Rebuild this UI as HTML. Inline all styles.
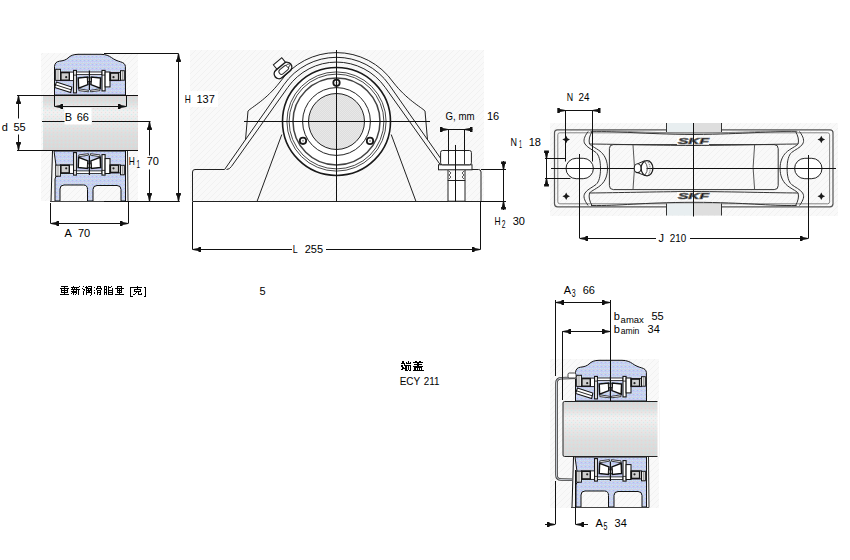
<!DOCTYPE html><html><head><meta charset="utf-8"><style>
html,body{margin:0;padding:0;background:#fff;}
svg{display:block;}
text{font-family:"Liberation Sans",sans-serif;fill:#000;}
</style></head><body>
<svg width="850" height="560" viewBox="0 0 850 560">
<defs>
<pattern id="hatch" width="6" height="6" patternUnits="userSpaceOnUse">
<rect width="6" height="6" fill="#f9f9f9"/><rect x="5" y="0" width="1" height="1" fill="#f1f1f1"/><rect x="4" y="1" width="1" height="1" fill="#f1f1f1"/><rect x="3" y="2" width="1" height="1" fill="#f1f1f1"/><rect x="2" y="3" width="1" height="1" fill="#f1f1f1"/><rect x="1" y="4" width="1" height="1" fill="#f1f1f1"/><rect x="0" y="5" width="1" height="1" fill="#f1f1f1"/>
</pattern>
<pattern id="blue" width="4" height="4" patternUnits="userSpaceOnUse">
<rect width="4" height="4" fill="#cacaf2"/><rect x="0" y="0" width="1" height="1" fill="#a4c8f0"/><rect x="2" y="0" width="1" height="1" fill="#bceaf0"/><rect x="1" y="2" width="1" height="1" fill="#bceaf0"/><rect x="3" y="2" width="1" height="1" fill="#c4eef0"/><rect x="2" y="3" width="1" height="1" fill="#d8d6d0"/><rect x="0" y="3" width="1" height="1" fill="#d4d4e4"/>
</pattern>
<pattern id="gray" width="2" height="2" patternUnits="userSpaceOnUse">
<rect width="2" height="2" fill="#dedede"/><rect x="0" y="0" width="1" height="1" fill="#e8e8e8"/><rect x="1" y="1" width="1" height="1" fill="#e8e8e8"/>
</pattern>
<linearGradient id="shaftg" x1="0" y1="0" x2="0" y2="1">
<stop offset="0" stop-color="#d8d8d8"/><stop offset="0.12" stop-color="#dedede"/><stop offset="0.3" stop-color="#f1f1f1"/><stop offset="0.48" stop-color="#e8e8e8"/><stop offset="0.7" stop-color="#dedede"/><stop offset="1" stop-color="#d8d8d8"/>
</linearGradient>
<pattern id="dots" width="4" height="4" patternUnits="userSpaceOnUse"><rect x="1" y="0" width="1" height="1" fill="#f4c8c8" opacity="0.5"/><rect x="3" y="2" width="1" height="1" fill="#b8f0f0" opacity="0.6"/></pattern>
<pattern id="gray2" width="2" height="2" patternUnits="userSpaceOnUse"><rect width="2" height="2" fill="#e2e2e2"/><rect x="0" y="0" width="1" height="1" fill="#ececec"/><rect x="1" y="1" width="1" height="1" fill="#eaeaea"/></pattern>
</defs>
<rect width="850" height="560" fill="#fff"/>

<rect x="41" y="53" width="97" height="148" fill="url(#hatch)" stroke="none" stroke-width="1" />
<rect x="190" y="50" width="294" height="151" fill="url(#hatch)" stroke="none" stroke-width="1" />
<rect x="550" y="123" width="288" height="93" fill="url(#hatch)" stroke="none" stroke-width="1" />
<rect x="550" y="359" width="109" height="149" fill="url(#hatch)" stroke="none" stroke-width="1" />
<path d="M54.5,95 L54.5,66.5 C54.8,63 56.5,61.6 59.5,61.2 C63,60.8 66,60 68,58 C70.5,55.5 73.5,54.4 78,54.3 L101,54.3 C106,54.4 109,55.8 111.5,57.6 C114.5,59.8 117.5,61 120.5,61.8 C123.5,62.6 125.2,64 125.4,66.5 L125.5,95 Z" fill="url(#blue)" stroke="#111" stroke-width="1" />
<rect x="60.4" y="72.1" width="13.2" height="8.5" fill="#fff" stroke="#111" stroke-width="0.9" />
<rect x="60.9" y="72.6" width="8.4" height="7.6" fill="#cfcfcf" stroke="#151515" stroke-width="1.4" />
<circle cx="66.2" cy="77.2" r="1.1" fill="#222" stroke="none" stroke-width="1" />
<rect x="55.7" y="69.3" width="4.7" height="11.1" fill="#fff" stroke="#111" stroke-width="1" />
<line x1="58" y1="69.5" x2="58" y2="80.2" stroke="#555" stroke-width="0.7" />
<path d="M56.4,82.1 L71.8,87.1 L70.7,92.5 L54.6,87.5 Z" fill="#fff" stroke="#111" stroke-width="1.1" />
<line x1="55.5" y1="84.8" x2="71.2" y2="89.8" stroke="#111" stroke-width="0.9" />
<rect x="73.6" y="70.4" width="2.8" height="22.5" fill="#fff" stroke="#111" stroke-width="1.1" />
<line x1="73.6" y1="75.1" x2="76.4" y2="75.1" stroke="#111" stroke-width="0.8" />
<rect x="76.4" y="72" width="25.6" height="2.6" fill="#fff" stroke="#111" stroke-width="0.8" />
<path d="M78.2,77.9 L87.5,77.1 L87.9,84.6 L78.6,88.2 Z" fill="#fff" stroke="#111" stroke-width="1.5" />
<path d="M100.6,77.9 L91.3,77.1 L90.9,84.6 L100.2,88.2 Z" fill="#fff" stroke="#111" stroke-width="1.5" />
<path d="M78.8,88.8 L88.4,90.3 L88.4,91.8 L78.8,90.6 Z" fill="#fff" stroke="#111" stroke-width="0.8" />
<path d="M100,88.8 L90.4,90.3 L90.4,91.8 L100,90.6 Z" fill="#fff" stroke="#111" stroke-width="0.8" />
<rect x="87.8" y="77.8" width="3.2" height="3.8" fill="#fff" stroke="#111" stroke-width="0.8" />
<line x1="89.4" y1="70.5" x2="89.4" y2="90" stroke="#111" stroke-width="1.2" />
<rect x="102" y="70.4" width="3.1" height="20.5" fill="#fff" stroke="#111" stroke-width="1.1" />
<line x1="102" y1="75.1" x2="105.1" y2="75.1" stroke="#111" stroke-width="0.8" />
<rect x="105.1" y="72" width="4.9" height="14.9" fill="#fff" stroke="#111" stroke-width="1" />
<rect x="110" y="72.6" width="10.5" height="8" fill="#fff" stroke="#111" stroke-width="0.9" />
<rect x="110.4" y="73.1" width="8.2" height="7.2" fill="#cfcfcf" stroke="#151515" stroke-width="1.4" />
<circle cx="113.5" cy="77.2" r="1.1" fill="#222" stroke="none" stroke-width="1" />
<rect x="120.5" y="70.7" width="3.8" height="9.5" fill="#fff" stroke="#111" stroke-width="1" />
<line x1="122.3" y1="70.9" x2="122.3" y2="80" stroke="#555" stroke-width="0.7" />
<path d="M52.5,151 L51,201.5" fill="none" stroke="#111" stroke-width="1" />
<path d="M127.5,151 L128,201.5" fill="none" stroke="#333" stroke-width="1" />
<path d="M54,151 L125.5,151 L125.5,201 L121,201 L121,189.5 Q121,185.5 117,185.5 L97,185.5 Q93,185.5 93,189.5 L93,201 L87.5,201 L87.5,189.5 Q87.5,185 83.5,185 L64,185 Q60,185 60,189 L60,201 L55,201 L55,179 Q55,176 58,176 L58,165.5 L56,165.5 Z" fill="url(#blue)" stroke="#111" stroke-width="1" />
<g transform="translate(0,245.5) scale(1,-1)">
<rect x="60.4" y="72.1" width="13.2" height="8.5" fill="#fff" stroke="#111" stroke-width="0.9" />
<rect x="60.9" y="72.6" width="8.4" height="7.6" fill="#cfcfcf" stroke="#151515" stroke-width="1.4" />
<circle cx="66.2" cy="77.2" r="1.1" fill="#222" stroke="none" stroke-width="1" />
<rect x="55.7" y="69.3" width="4.7" height="11.1" fill="#fff" stroke="#111" stroke-width="1" />
<line x1="58" y1="69.5" x2="58" y2="80.2" stroke="#555" stroke-width="0.7" />
<rect x="73.6" y="70.4" width="2.8" height="22.5" fill="#fff" stroke="#111" stroke-width="1.1" />
<line x1="73.6" y1="75.1" x2="76.4" y2="75.1" stroke="#111" stroke-width="0.8" />
<rect x="76.4" y="72" width="25.6" height="2.6" fill="#fff" stroke="#111" stroke-width="0.8" />
<path d="M78.2,77.9 L87.5,77.1 L87.9,84.6 L78.6,88.2 Z" fill="#fff" stroke="#111" stroke-width="1.5" />
<path d="M100.6,77.9 L91.3,77.1 L90.9,84.6 L100.2,88.2 Z" fill="#fff" stroke="#111" stroke-width="1.5" />
<path d="M78.8,88.8 L88.4,90.3 L88.4,91.8 L78.8,90.6 Z" fill="#fff" stroke="#111" stroke-width="0.8" />
<path d="M100,88.8 L90.4,90.3 L90.4,91.8 L100,90.6 Z" fill="#fff" stroke="#111" stroke-width="0.8" />
<rect x="87.8" y="77.8" width="3.2" height="3.8" fill="#fff" stroke="#111" stroke-width="0.8" />
<line x1="89.4" y1="70.5" x2="89.4" y2="90" stroke="#111" stroke-width="1.2" />
<rect x="102" y="70.4" width="3.1" height="20.5" fill="#fff" stroke="#111" stroke-width="1.1" />
<line x1="102" y1="75.1" x2="105.1" y2="75.1" stroke="#111" stroke-width="0.8" />
<rect x="105.1" y="72" width="4.9" height="14.9" fill="#fff" stroke="#111" stroke-width="1" />
<rect x="110" y="72.6" width="10.5" height="8" fill="#fff" stroke="#111" stroke-width="0.9" />
<rect x="110.4" y="73.1" width="8.2" height="7.2" fill="#cfcfcf" stroke="#151515" stroke-width="1.4" />
<circle cx="113.5" cy="77.2" r="1.1" fill="#222" stroke="none" stroke-width="1" />
<rect x="120.5" y="70.7" width="3.8" height="9.5" fill="#fff" stroke="#111" stroke-width="1" />
<line x1="122.3" y1="70.9" x2="122.3" y2="80" stroke="#555" stroke-width="0.7" />
</g>
<line x1="50" y1="201.5" x2="128" y2="201.5" stroke="#444" stroke-width="1" />
<rect x="43" y="95.5" width="95" height="55" fill="url(#shaftg)" stroke="none" stroke-width="1" />
<rect x="43" y="95.5" width="95" height="55" fill="url(#dots)" stroke="none" stroke-width="1" />
<line x1="41" y1="95.5" x2="138" y2="95.5" stroke="#111" stroke-width="1" />
<line x1="41" y1="150.5" x2="138" y2="150.5" stroke="#111" stroke-width="1" />
<line x1="17" y1="95.5" x2="41" y2="95.5" stroke="#111" stroke-width="1" />
<line x1="17" y1="150.5" x2="41" y2="150.5" stroke="#111" stroke-width="1" />
<line x1="18.5" y1="95" x2="18.5" y2="118.5" stroke="#111" stroke-width="1" />
<line x1="18.5" y1="134.5" x2="18.5" y2="150.5" stroke="#111" stroke-width="1" />
<path d="M17.90,96.00 L17.40,98.50 L16.90,101.50 L16.10,101.50 L16.10,104.00 L20.90,104.00 L20.90,101.50 L20.10,101.50 L19.60,98.50 L19.10,96.00Z" fill="#111"/>
<path d="M17.90,150.00 L17.40,147.50 L16.90,144.50 L16.10,144.50 L16.10,142.00 L20.90,142.00 L20.90,144.50 L20.10,144.50 L19.60,147.50 L19.10,150.00Z" fill="#111"/>
<text x="1.70" y="131.00" font-size="11" >d</text>
<text x="13.50" y="131.00" font-size="11" >55</text>
<line x1="54.5" y1="95.5" x2="54.5" y2="106.5" stroke="#111" stroke-width="1" />
<line x1="126.5" y1="95.5" x2="126.5" y2="106.5" stroke="#111" stroke-width="1" />
<line x1="54.5" y1="106.5" x2="126.5" y2="106.5" stroke="#111" stroke-width="1" />
<path d="M55.00,105.90 L57.50,105.40 L60.50,104.90 L60.50,104.10 L63.00,104.10 L63.00,108.90 L60.50,108.90 L60.50,108.10 L57.50,107.60 L55.00,107.10Z" fill="#111"/>
<path d="M126.00,105.90 L123.50,105.40 L120.50,104.90 L120.50,104.10 L118.00,104.10 L118.00,108.90 L120.50,108.90 L120.50,108.10 L123.50,107.60 L126.00,107.10Z" fill="#111"/>
<rect x="64.5" y="108" width="27" height="16.5" fill="#fff" stroke="none" stroke-width="1" />
<text x="64.70" y="121.00" font-size="11" >B</text>
<text x="76.70" y="121.00" font-size="11" >66</text>
<line x1="42" y1="121.5" x2="64.5" y2="121.5" stroke="#111" stroke-width="1" />
<line x1="92" y1="121.5" x2="150.5" y2="121.5" stroke="#111" stroke-width="1" />
<line x1="149.5" y1="121.5" x2="149.5" y2="155.5" stroke="#111" stroke-width="1" />
<line x1="149.5" y1="169.5" x2="149.5" y2="201" stroke="#111" stroke-width="1" />
<path d="M148.90,122.00 L148.40,124.50 L147.90,127.50 L147.10,127.50 L147.10,130.00 L151.90,130.00 L151.90,127.50 L151.10,127.50 L150.60,124.50 L150.10,122.00Z" fill="#111"/>
<path d="M148.90,201.00 L148.40,198.50 L147.90,195.50 L147.10,195.50 L147.10,193.00 L151.90,193.00 L151.90,195.50 L151.10,195.50 L150.60,198.50 L150.10,201.00Z" fill="#111"/>
<text x="128.70" y="165.00" font-size="11" textLength="6.06" lengthAdjust="spacingAndGlyphs">H</text>
<text x="136.50" y="168.00" font-size="10" textLength="3.48" lengthAdjust="spacingAndGlyphs">1</text>
<text x="146.70" y="165.00" font-size="11" >70</text>
<line x1="104" y1="53.5" x2="178.5" y2="53.5" stroke="#111" stroke-width="1" />
<line x1="178.5" y1="53.5" x2="178.5" y2="201" stroke="#111" stroke-width="1" />
<line x1="104" y1="201.5" x2="179.8" y2="201.5" stroke="#111" stroke-width="1" />
<path d="M177.90,54.00 L177.40,56.50 L176.90,59.50 L176.10,59.50 L176.10,62.00 L180.90,62.00 L180.90,59.50 L180.10,59.50 L179.60,56.50 L179.10,54.00Z" fill="#111"/>
<path d="M177.90,201.00 L177.40,198.50 L176.90,195.50 L176.10,195.50 L176.10,193.00 L180.90,193.00 L180.90,195.50 L180.10,195.50 L179.60,198.50 L179.10,201.00Z" fill="#111"/>
<rect x="181" y="91" width="37" height="16" fill="#fff" stroke="none" stroke-width="1" />
<text x="184.70" y="103.00" font-size="11" textLength="6.06" lengthAdjust="spacingAndGlyphs">H</text>
<text x="196.50" y="103.00" font-size="11" >137</text>
<line x1="50.5" y1="203" x2="50.5" y2="223.5" stroke="#111" stroke-width="1" />
<line x1="128.5" y1="201" x2="128.5" y2="223.5" stroke="#111" stroke-width="1" />
<line x1="50.6" y1="223.5" x2="128.2" y2="223.5" stroke="#111" stroke-width="1" />
<path d="M51.00,222.90 L53.50,222.40 L56.50,221.90 L56.50,221.10 L59.00,221.10 L59.00,225.90 L56.50,225.90 L56.50,225.10 L53.50,224.60 L51.00,224.10Z" fill="#111"/>
<path d="M128.00,222.90 L125.50,222.40 L122.50,221.90 L122.50,221.10 L120.00,221.10 L120.00,225.90 L122.50,225.90 L122.50,225.10 L125.50,224.60 L128.00,224.10Z" fill="#111"/>
<text x="64.50" y="237.00" font-size="11" >A</text>
<text x="77.90" y="237.00" font-size="11" >70</text>
<path d="M192.5,201.5 L192.5,172 Q192.5,169.5 195,169.5 L224.6,169.5 L283.9,84.7 A64.2,64.2 0 0 1 389.1,84.7 L448.4,169.5 L478.5,169.5 Q481,169.5 481,172 L481,201.5" fill="none" stroke="#222" stroke-width="1" />
<path d="M226.5,169.5 Q229.5,169.5 231.5,166.4 L287.8,87.4 A59.5,59.5 0 0 1 385.2,87.4 L441.5,166.4 Q443.5,169.5 446.5,169.5" fill="none" stroke="#222" stroke-width="1" />
<path d="M245.5,140 L248,111 C252,107 266,100 280,82 A69,69 0 0 1 393.0,82 C407.0,100 421.0,107 425.0,111 L427.5,140" fill="none" stroke="#222" stroke-width="1" />
<line x1="192.5" y1="201.5" x2="481" y2="201.5" stroke="#222" stroke-width="1" />
<line x1="257" y1="201.5" x2="281.8" y2="134.5" stroke="#222" stroke-width="1" />
<line x1="416.0" y1="201.5" x2="391.2" y2="134.5" stroke="#222" stroke-width="1" />
<circle cx="336.5" cy="121.5" r="54" fill="#fff" stroke="#1a1a1a" stroke-width="1.6" />
<circle cx="336.5" cy="121.5" r="49.6" fill="none" stroke="#333" stroke-width="0.9" />
<circle cx="336.5" cy="121.5" r="47.4" fill="none" stroke="#333" stroke-width="0.9" />
<circle cx="336.5" cy="121.5" r="43.5" fill="none" stroke="#444" stroke-width="1.5" />
<circle cx="336.5" cy="121.5" r="33.9" fill="none" stroke="#222" stroke-width="1" />
<circle cx="336.5" cy="121.5" r="28" fill="url(#gray)" stroke="#222" stroke-width="1" />
<circle cx="336.5" cy="82.8" r="3.2" fill="#fff" stroke="#1a1a1a" stroke-width="1.8" />
<circle cx="336.5" cy="82.8" r="1.0" fill="#999" stroke="none" stroke-width="1" />
<circle cx="303.0" cy="140.8" r="3.2" fill="#fff" stroke="#1a1a1a" stroke-width="1.8" />
<circle cx="303.0" cy="140.8" r="1.0" fill="#999" stroke="none" stroke-width="1" />
<circle cx="370.0" cy="140.9" r="3.2" fill="#fff" stroke="#1a1a1a" stroke-width="1.8" />
<circle cx="370.0" cy="140.9" r="1.0" fill="#999" stroke="none" stroke-width="1" />
<g transform="translate(283,70.5) rotate(-40)">
<rect x="-3.8" y="-10.5" width="11" height="7" fill="#fff" stroke="#222" stroke-width="1" />
<rect x="-10" y="-4.8" width="20" height="9.6" fill="#fff" stroke="#1a1a1a" stroke-width="1.5" rx="4.8"/>
<rect x="-4.5" y="-2.6" width="11" height="5.2" fill="#fff" stroke="#333" stroke-width="1" rx="2.6"/>
<circle cx="7" cy="-0.5" r="1.6" fill="#fff" stroke="#333" stroke-width="0.8" />
</g>
<line x1="336.5" y1="50" x2="336.5" y2="201.5" stroke="#111" stroke-width="1" />
<line x1="244" y1="121.5" x2="430" y2="121.5" stroke="#111" stroke-width="1" />
<rect x="438.5" y="164.8" width="33.5" height="5" fill="#fff" stroke="#222" stroke-width="1" />
<rect x="440.6" y="150.5" width="30.8" height="14.3" fill="#fff" stroke="#222" stroke-width="1" rx="2"/>
<line x1="448.5" y1="151" x2="448.5" y2="164.5" stroke="#333" stroke-width="1" />
<line x1="464.5" y1="151" x2="464.5" y2="164.5" stroke="#333" stroke-width="1" />
<path d="M448,170 L448,180.5 L465,180.5 L465,170" fill="none" stroke="#222" stroke-width="1" />
<path d="M449,171 l2,2 l-2,2 l2,2 l-2,2" fill="none" stroke="#333" stroke-width="0.8" />
<path d="M464,171 l-2,2 l2,2 l-2,2 l2,2" fill="none" stroke="#333" stroke-width="0.8" />
<rect x="448" y="180.5" width="17" height="20.7" fill="#fff" stroke="#222" stroke-width="1" />
<line x1="455.5" y1="145" x2="455.5" y2="201.5" stroke="#111" stroke-width="1" />
<line x1="448.5" y1="129.5" x2="448.5" y2="152" stroke="#111" stroke-width="1" />
<line x1="464.5" y1="129.5" x2="464.5" y2="152" stroke="#111" stroke-width="1" />
<line x1="441" y1="129.5" x2="472.4" y2="129.5" stroke="#111" stroke-width="1" />
<path d="M448.00,128.90 L445.50,128.40 L442.50,127.90 L442.50,127.10 L440.00,127.10 L440.00,131.90 L442.50,131.90 L442.50,131.10 L445.50,130.60 L448.00,130.10Z" fill="#111"/>
<path d="M464.50,128.90 L467.00,128.40 L470.00,127.90 L470.00,127.10 L472.50,127.10 L472.50,131.90 L470.00,131.90 L470.00,131.10 L467.00,130.60 L464.50,130.10Z" fill="#111"/>
<text x="445.60" y="120.00" font-size="11" textLength="28.90" lengthAdjust="spacingAndGlyphs">G, mm</text>
<text x="486.90" y="120.00" font-size="11" >16</text>
<line x1="481" y1="169.5" x2="506" y2="169.5" stroke="#111" stroke-width="1" />
<line x1="481" y1="201.5" x2="506" y2="201.5" stroke="#111" stroke-width="1" />
<line x1="503.5" y1="161" x2="503.5" y2="210" stroke="#111" stroke-width="1" />
<path d="M502.90,169.50 L502.40,167.00 L501.90,164.00 L501.10,164.00 L501.10,161.50 L505.90,161.50 L505.90,164.00 L505.10,164.00 L504.60,167.00 L504.10,169.50Z" fill="#111"/>
<path d="M502.90,201.50 L502.40,204.00 L501.90,207.00 L501.10,207.00 L501.10,209.50 L505.90,209.50 L505.90,207.00 L505.10,207.00 L504.60,204.00 L504.10,201.50Z" fill="#111"/>
<text x="494.60" y="225.00" font-size="11" textLength="6.06" lengthAdjust="spacingAndGlyphs">H</text>
<text x="501.70" y="228.00" font-size="10" textLength="3.71" lengthAdjust="spacingAndGlyphs">2</text>
<text x="512.70" y="225.00" font-size="11" >30</text>
<line x1="192.5" y1="202" x2="192.5" y2="249.5" stroke="#111" stroke-width="1" />
<line x1="480.5" y1="201" x2="480.5" y2="249.5" stroke="#111" stroke-width="1" />
<line x1="192.5" y1="249.5" x2="292" y2="249.5" stroke="#111" stroke-width="1" />
<line x1="326" y1="249.5" x2="480.5" y2="249.5" stroke="#111" stroke-width="1" />
<path d="M193.00,248.90 L195.50,248.40 L198.50,247.90 L198.50,247.10 L201.00,247.10 L201.00,251.90 L198.50,251.90 L198.50,251.10 L195.50,250.60 L193.00,250.10Z" fill="#111"/>
<path d="M480.00,248.90 L477.50,248.40 L474.50,247.90 L474.50,247.10 L472.00,247.10 L472.00,251.90 L474.50,251.90 L474.50,251.10 L477.50,250.60 L480.00,250.10Z" fill="#111"/>
<text x="292.70" y="253.00" font-size="11" textLength="4.90" lengthAdjust="spacingAndGlyphs">L</text>
<text x="304.70" y="253.00" font-size="11" >255</text>
<rect x="554.5" y="129.8" width="278.5" height="77" fill="none" stroke="#555" stroke-width="1.2" rx="3"/>
<rect x="557.8" y="132.8" width="271.8" height="71" fill="none" stroke="#777" stroke-width="0.9" rx="2"/>
<rect x="666.5" y="123" width="27" height="9" fill="#e8eef0" stroke="none" stroke-width="1" />
<rect x="693.5" y="123" width="28" height="9" fill="#dedede" stroke="none" stroke-width="1" />
<line x1="666.5" y1="123" x2="666.5" y2="132" stroke="#333" stroke-width="1" />
<line x1="721.5" y1="123" x2="721.5" y2="132" stroke="#333" stroke-width="1" />
<rect x="666.5" y="203.5" width="27" height="12" fill="#e8eef0" stroke="none" stroke-width="1" />
<rect x="693.5" y="203.5" width="28" height="12" fill="#dedede" stroke="none" stroke-width="1" />
<line x1="666.5" y1="203.5" x2="666.5" y2="215.5" stroke="#333" stroke-width="1" />
<line x1="721.5" y1="203.5" x2="721.5" y2="215.5" stroke="#333" stroke-width="1" />
<path d="M588.1,131.5 C584,137 583,141 585,144 C587,147.5 593,150 596,152.5 C599,155 600.5,161 600.5,168.5 C600.5,176 599,182 596,184.5 C593,187 587,189.5 585,193 C583,196 584,200 588.1,205.5" fill="none" stroke="#333" stroke-width="1" />
<path d="M799.5,131.5 C803.6,137 804.6,141 802.6,144 C800.6,147.5 794.6,150 791.6,152.5 C788.6,155 787.1,161 787.1,168.5 C787.1,176 788.6,182 791.6,184.5 C794.6,187 800.6,189.5 802.6,193 C804.6,196 803.6,200 799.5,205.5" fill="none" stroke="#333" stroke-width="1" />
<path d="M592,131.5 C589.5,136 588.5,140 589.5,144 C591,146 598,149 601.5,152.5 C605,156 607.5,161 607.5,168.5 C607.5,176 605,181 601.5,184.5 C598,188 591,191 589.5,193 C588.5,197 589.5,201 592,205.5" fill="none" stroke="#333" stroke-width="1" />
<path d="M795.6,131.5 C798.1,136 799.1,140 798.1,144 C796.6,146 789.6,149 786.1,152.5 C782.6,156 780.1,161 780.1,168.5 C780.1,176 782.6,181 786.1,184.5 C789.6,188 796.6,191 798.1,193 C799.1,197 798.1,201 795.6,205.5" fill="none" stroke="#333" stroke-width="1" />
<path d="M591,131.5 C620,131 640,134 693.8,134.5 C747.6,134 767.6,131 796.6,131.5" fill="none" stroke="#333" stroke-width="1" />
<path d="M590,131.2 C620,130 640,133 693.8,133 C747.6,133 767.6,130 797.6,131.2" fill="none" stroke="#777" stroke-width="0.8" />
<path d="M589.5,144 C620,144.3 650,145.2 693.8,145.5 C737.6,145.2 767.6,144.3 798.1,144" fill="none" stroke="#333" stroke-width="1" />
<path d="M591,205.5 C620,206 640,202.5 693.8,202.3 C747.6,202.5 767.6,206 796.6,205.5" fill="none" stroke="#333" stroke-width="1" />
<path d="M589.5,193 C620,192.7 650,191.8 693.8,191.5 C737.6,191.8 767.6,192.7 798.1,193" fill="none" stroke="#333" stroke-width="1" />
<rect x="609.4" y="144.6" width="168.79999999999995" height="45" fill="none" stroke="#333" stroke-width="1" rx="4"/>
<path d="M633,145 Q636,168 633,189.5" fill="none" stroke="#444" stroke-width="0.9" />
<path d="M754.6,145 Q751.6,168 754.6,189.5" fill="none" stroke="#444" stroke-width="0.9" />
<rect x="677" y="137.2" width="32" height="7.6" fill="#fff" stroke="none" stroke-width="1" />
<text x="693.4" y="144.4" font-size="9.5" text-anchor="middle" font-weight="bold" font-style="italic" textLength="31" lengthAdjust="spacingAndGlyphs" fill="#fff" stroke="#6a6a6a" stroke-width="0.7">SKF</text>
<rect x="677" y="192.2" width="32" height="7.6" fill="#fff" stroke="none" stroke-width="1" />
<text x="693.4" y="199.4" font-size="9.5" text-anchor="middle" font-weight="bold" font-style="italic" textLength="31" lengthAdjust="spacingAndGlyphs" fill="#fff" stroke="#6a6a6a" stroke-width="0.7">SKF</text>
<path d="M576.2,158.3 L583.2,158.3 A10.2,10.2 0 0 1 583.2,178.7 L576.2,178.7 A10.2,10.2 0 0 1 576.2,158.3 Z" fill="#fff" stroke="#222" stroke-width="1" />
<path d="M804.8,158.3 L811.8,158.3 A10.2,10.2 0 0 1 811.8,178.7 L804.8,178.7 A10.2,10.2 0 0 1 804.8,158.3 Z" fill="#fff" stroke="#222" stroke-width="1" />
<path d="M566.2,135.7 L567.5,138.2 L570.0,139.5 L567.5,140.8 L566.2,143.3 L564.9000000000001,140.8 L562.4000000000001,139.5 L564.9000000000001,138.2 Z" fill="#1a1a1a"/>
<path d="M566.2,192.5 L567.5,195.0 L570.0,196.3 L567.5,197.60000000000002 L566.2,200.10000000000002 L564.9000000000001,197.60000000000002 L562.4000000000001,196.3 L564.9000000000001,195.0 Z" fill="#1a1a1a"/>
<path d="M821.3,135.7 L822.5999999999999,138.2 L825.0999999999999,139.5 L822.5999999999999,140.8 L821.3,143.3 L820.0,140.8 L817.5,139.5 L820.0,138.2 Z" fill="#1a1a1a"/>
<path d="M821.3,192.5 L822.5999999999999,195.0 L825.0999999999999,196.3 L822.5999999999999,197.60000000000002 L821.3,200.10000000000002 L820.0,197.60000000000002 L817.5,196.3 L820.0,195.0 Z" fill="#1a1a1a"/>
<line x1="551" y1="168.5" x2="836" y2="168.5" stroke="#111" stroke-width="1" />
<line x1="693.5" y1="123" x2="693.5" y2="216.5" stroke="#111" stroke-width="1" />
<line x1="579.5" y1="154" x2="579.5" y2="238" stroke="#111" stroke-width="1" />
<line x1="808.5" y1="155" x2="808.5" y2="238.5" stroke="#111" stroke-width="1" />
<path d="M637.6,163.8 L645,160.8 L648,175.8 L637.6,172.6 Z" fill="#fff" stroke="none" stroke-width="1" />
<path d="M637.6,163.8 L644.5,160.8 M637.6,172.6 L645,175.6" fill="none" stroke="#222" stroke-width="1" />
<ellipse cx="647" cy="168.2" rx="5.9" ry="7.6" fill="none" stroke="#1e1e1e" stroke-width="1.3"/>
<path d="M644.5,161.5 Q650,168 645,175" fill="none" stroke="#444" stroke-width="0.9"/>
<path d="M648,162 Q652,168 648.5,174.5" fill="none" stroke="#555" stroke-width="0.8" stroke-dasharray="1.2 0.8"/>
<ellipse cx="637.6" cy="168.2" rx="3.4" ry="4.4" fill="#fff" stroke="#1e1e1e" stroke-width="1.1"/>
<line x1="565.5" y1="110.3" x2="565.5" y2="161.5" stroke="#111" stroke-width="1" />
<line x1="592.5" y1="110.3" x2="592.5" y2="161.5" stroke="#111" stroke-width="1" />
<line x1="558" y1="110.5" x2="600" y2="110.5" stroke="#111" stroke-width="1" />
<path d="M565.30,109.90 L562.80,109.40 L559.80,108.90 L559.80,108.10 L557.30,108.10 L557.30,112.90 L559.80,112.90 L559.80,112.10 L562.80,111.60 L565.30,111.10Z" fill="#111"/>
<path d="M592.50,109.90 L595.00,109.40 L598.00,108.90 L598.00,108.10 L600.50,108.10 L600.50,112.90 L598.00,112.90 L598.00,112.10 L595.00,111.60 L592.50,111.10Z" fill="#111"/>
<text x="566.80" y="101.00" font-size="11" textLength="6.36" lengthAdjust="spacingAndGlyphs">N</text>
<text x="578.60" y="101.00" font-size="11" textLength="10.92" lengthAdjust="spacingAndGlyphs">24</text>
<line x1="545" y1="158.5" x2="565.3" y2="158.5" stroke="#111" stroke-width="1" />
<line x1="545" y1="178.5" x2="570.4" y2="178.5" stroke="#111" stroke-width="1" />
<line x1="546.5" y1="151" x2="546.5" y2="186" stroke="#111" stroke-width="1" />
<path d="M545.90,158.50 L545.40,156.00 L544.90,153.00 L544.10,153.00 L544.10,150.50 L548.90,150.50 L548.90,153.00 L548.10,153.00 L547.60,156.00 L547.10,158.50Z" fill="#111"/>
<path d="M545.90,178.50 L545.40,181.00 L544.90,184.00 L544.10,184.00 L544.10,186.50 L548.90,186.50 L548.90,184.00 L548.10,184.00 L547.60,181.00 L547.10,178.50Z" fill="#111"/>
<text x="510.50" y="146.00" font-size="11" textLength="6.46" lengthAdjust="spacingAndGlyphs">N</text>
<text x="519.10" y="148.00" font-size="10" textLength="2.92" lengthAdjust="spacingAndGlyphs">1</text>
<text x="528.70" y="146.00" font-size="11" >18</text>
<line x1="579.5" y1="238.5" x2="656" y2="238.5" stroke="#111" stroke-width="1" />
<line x1="690" y1="238.5" x2="808.3" y2="238.5" stroke="#111" stroke-width="1" />
<path d="M580.00,237.90 L582.50,237.40 L585.50,236.90 L585.50,236.10 L588.00,236.10 L588.00,240.90 L585.50,240.90 L585.50,240.10 L582.50,239.60 L580.00,239.10Z" fill="#111"/>
<path d="M808.00,237.90 L805.50,237.40 L802.50,236.90 L802.50,236.10 L800.00,236.10 L800.00,240.90 L802.50,240.90 L802.50,240.10 L805.50,239.60 L808.00,239.10Z" fill="#111"/>
<text x="658.50" y="242.00" font-size="11" >J</text>
<text x="669.70" y="242.00" font-size="11" textLength="16.43" lengthAdjust="spacingAndGlyphs">210</text>
<g transform="translate(521,306)">
<path d="M54.5,95 L54.5,66.5 C54.8,63 56.5,61.6 59.5,61.2 C63,60.8 66,60 68,58 C70.5,55.5 73.5,54.4 78,54.3 L101,54.3 C106,54.4 109,55.8 111.5,57.6 C114.5,59.8 117.5,61 120.5,61.8 C123.5,62.6 125.2,64 125.4,66.5 L125.5,95 Z" fill="url(#blue)" stroke="#111" stroke-width="1" />
<rect x="60.4" y="72.1" width="13.2" height="8.5" fill="#fff" stroke="#111" stroke-width="0.9" />
<rect x="60.9" y="72.6" width="8.4" height="7.6" fill="#cfcfcf" stroke="#151515" stroke-width="1.4" />
<circle cx="66.2" cy="77.2" r="1.1" fill="#222" stroke="none" stroke-width="1" />
<rect x="55.7" y="69.3" width="4.7" height="11.1" fill="#fff" stroke="#111" stroke-width="1" />
<line x1="58" y1="69.5" x2="58" y2="80.2" stroke="#555" stroke-width="0.7" />
<path d="M56.4,82.1 L71.8,87.1 L70.7,92.5 L54.6,87.5 Z" fill="#fff" stroke="#111" stroke-width="1.1" />
<line x1="55.5" y1="84.8" x2="71.2" y2="89.8" stroke="#111" stroke-width="0.9" />
<rect x="73.6" y="70.4" width="2.8" height="22.5" fill="#fff" stroke="#111" stroke-width="1.1" />
<line x1="73.6" y1="75.1" x2="76.4" y2="75.1" stroke="#111" stroke-width="0.8" />
<rect x="76.4" y="72" width="25.6" height="2.6" fill="#fff" stroke="#111" stroke-width="0.8" />
<path d="M78.2,77.9 L87.5,77.1 L87.9,84.6 L78.6,88.2 Z" fill="#fff" stroke="#111" stroke-width="1.5" />
<path d="M100.6,77.9 L91.3,77.1 L90.9,84.6 L100.2,88.2 Z" fill="#fff" stroke="#111" stroke-width="1.5" />
<path d="M78.8,88.8 L88.4,90.3 L88.4,91.8 L78.8,90.6 Z" fill="#fff" stroke="#111" stroke-width="0.8" />
<path d="M100,88.8 L90.4,90.3 L90.4,91.8 L100,90.6 Z" fill="#fff" stroke="#111" stroke-width="0.8" />
<rect x="87.8" y="77.8" width="3.2" height="3.8" fill="#fff" stroke="#111" stroke-width="0.8" />
<line x1="89.4" y1="70.5" x2="89.4" y2="90" stroke="#111" stroke-width="1.2" />
<rect x="102" y="70.4" width="3.1" height="20.5" fill="#fff" stroke="#111" stroke-width="1.1" />
<line x1="102" y1="75.1" x2="105.1" y2="75.1" stroke="#111" stroke-width="0.8" />
<rect x="105.1" y="72" width="4.9" height="14.9" fill="#fff" stroke="#111" stroke-width="1" />
<rect x="110" y="72.6" width="10.5" height="8" fill="#fff" stroke="#111" stroke-width="0.9" />
<rect x="110.4" y="73.1" width="8.2" height="7.2" fill="#cfcfcf" stroke="#151515" stroke-width="1.4" />
<circle cx="113.5" cy="77.2" r="1.1" fill="#222" stroke="none" stroke-width="1" />
<rect x="120.5" y="70.7" width="3.8" height="9.5" fill="#fff" stroke="#111" stroke-width="1" />
<line x1="122.3" y1="70.9" x2="122.3" y2="80" stroke="#555" stroke-width="0.7" />
<path d="M52.5,151 L51,201.5" fill="none" stroke="#111" stroke-width="1" />
<path d="M127.5,151 L128,201.5" fill="none" stroke="#333" stroke-width="1" />
<path d="M54,151 L125.5,151 L125.5,201 L121,201 L121,189.5 Q121,185.5 117,185.5 L97,185.5 Q93,185.5 93,189.5 L93,201 L87.5,201 L87.5,189.5 Q87.5,185 83.5,185 L64,185 Q60,185 60,189 L60,201 L55,201 L55,179 Q55,176 58,176 L58,165.5 L56,165.5 Z" fill="url(#blue)" stroke="#111" stroke-width="1" />
<g transform="translate(0,245.5) scale(1,-1)">
<rect x="60.4" y="72.1" width="13.2" height="8.5" fill="#fff" stroke="#111" stroke-width="0.9" />
<rect x="60.9" y="72.6" width="8.4" height="7.6" fill="#cfcfcf" stroke="#151515" stroke-width="1.4" />
<circle cx="66.2" cy="77.2" r="1.1" fill="#222" stroke="none" stroke-width="1" />
<rect x="55.7" y="69.3" width="4.7" height="11.1" fill="#fff" stroke="#111" stroke-width="1" />
<line x1="58" y1="69.5" x2="58" y2="80.2" stroke="#555" stroke-width="0.7" />
<rect x="73.6" y="70.4" width="2.8" height="22.5" fill="#fff" stroke="#111" stroke-width="1.1" />
<line x1="73.6" y1="75.1" x2="76.4" y2="75.1" stroke="#111" stroke-width="0.8" />
<rect x="76.4" y="72" width="25.6" height="2.6" fill="#fff" stroke="#111" stroke-width="0.8" />
<path d="M78.2,77.9 L87.5,77.1 L87.9,84.6 L78.6,88.2 Z" fill="#fff" stroke="#111" stroke-width="1.5" />
<path d="M100.6,77.9 L91.3,77.1 L90.9,84.6 L100.2,88.2 Z" fill="#fff" stroke="#111" stroke-width="1.5" />
<path d="M78.8,88.8 L88.4,90.3 L88.4,91.8 L78.8,90.6 Z" fill="#fff" stroke="#111" stroke-width="0.8" />
<path d="M100,88.8 L90.4,90.3 L90.4,91.8 L100,90.6 Z" fill="#fff" stroke="#111" stroke-width="0.8" />
<rect x="87.8" y="77.8" width="3.2" height="3.8" fill="#fff" stroke="#111" stroke-width="0.8" />
<line x1="89.4" y1="70.5" x2="89.4" y2="90" stroke="#111" stroke-width="1.2" />
<rect x="102" y="70.4" width="3.1" height="20.5" fill="#fff" stroke="#111" stroke-width="1.1" />
<line x1="102" y1="75.1" x2="105.1" y2="75.1" stroke="#111" stroke-width="0.8" />
<rect x="105.1" y="72" width="4.9" height="14.9" fill="#fff" stroke="#111" stroke-width="1" />
<rect x="110" y="72.6" width="10.5" height="8" fill="#fff" stroke="#111" stroke-width="0.9" />
<rect x="110.4" y="73.1" width="8.2" height="7.2" fill="#cfcfcf" stroke="#151515" stroke-width="1.4" />
<circle cx="113.5" cy="77.2" r="1.1" fill="#222" stroke="none" stroke-width="1" />
<rect x="120.5" y="70.7" width="3.8" height="9.5" fill="#fff" stroke="#111" stroke-width="1" />
<line x1="122.3" y1="70.9" x2="122.3" y2="80" stroke="#555" stroke-width="0.7" />
</g>
<line x1="50" y1="201.5" x2="128" y2="201.5" stroke="#444" stroke-width="1" />
</g>
<path d="M564.5,401.5 L658.6,401.5 L658.6,456.5 L564.5,456.5 Q563,456.5 563,455 L563,403 Q563,401.5 564.5,401.5 Z" fill="url(#shaftg)" stroke="#222" stroke-width="1" />
<rect x="564" y="402" width="94" height="54" fill="url(#dots)" stroke="none" stroke-width="1" />
<rect x="657.5" y="401" width="2" height="56" fill="#fff" stroke="none" stroke-width="1" />
<path d="M576.5,377.8 L561,378.2 Q556.5,378.6 556.5,383 L556.5,475 Q556.5,479.5 561,479.5 L572,479.8" fill="none" stroke="#3a3a3a" stroke-width="2.6" />
<path d="M576.5,377.8 L561,378.2 Q556.5,378.6 556.5,383 L556.5,475 Q556.5,479.5 561,479.5 L572,479.8" fill="none" stroke="#d4d8e0" stroke-width="0.9" />
<rect x="568" y="373" width="8" height="5" fill="#fff" stroke="#333" stroke-width="0.9" rx="1.5"/>
<line x1="555.5" y1="300" x2="555.5" y2="376" stroke="#111" stroke-width="1" />
<line x1="610.5" y1="300" x2="610.5" y2="401" stroke="#111" stroke-width="1" />
<line x1="555.3" y1="302.5" x2="610.5" y2="302.5" stroke="#111" stroke-width="1" />
<path d="M556.00,301.90 L558.50,301.40 L561.50,300.90 L561.50,300.10 L564.00,300.10 L564.00,304.90 L561.50,304.90 L561.50,304.10 L558.50,303.60 L556.00,303.10Z" fill="#111"/>
<path d="M610.00,301.90 L607.50,301.40 L604.50,300.90 L604.50,300.10 L602.00,300.10 L602.00,304.90 L604.50,304.90 L604.50,304.10 L607.50,303.60 L610.00,303.10Z" fill="#111"/>
<text x="563.70" y="294.00" font-size="11" >A</text>
<text x="571.70" y="297.00" font-size="10" textLength="3.89" lengthAdjust="spacingAndGlyphs">3</text>
<text x="582.70" y="294.00" font-size="11" >66</text>
<line x1="562.5" y1="331.3" x2="562.5" y2="400" stroke="#111" stroke-width="1" />
<line x1="562.3" y1="331.5" x2="610.5" y2="331.5" stroke="#111" stroke-width="1" />
<path d="M563.00,330.90 L565.50,330.40 L568.50,329.90 L568.50,329.10 L571.00,329.10 L571.00,333.90 L568.50,333.90 L568.50,333.10 L565.50,332.60 L563.00,332.10Z" fill="#111"/>
<path d="M610.00,330.90 L607.50,330.40 L604.50,329.90 L604.50,329.10 L602.00,329.10 L602.00,333.90 L604.50,333.90 L604.50,333.10 L607.50,332.60 L610.00,332.10Z" fill="#111"/>
<text x="613.70" y="320.00" font-size="11" >b</text>
<text x="620.60" y="323.00" font-size="9.5" >amax</text>
<text x="651.50" y="320.00" font-size="11" >55</text>
<text x="613.70" y="333.00" font-size="11" >b</text>
<text x="620.70" y="334.00" font-size="9.5" textLength="18.63" lengthAdjust="spacingAndGlyphs">amin</text>
<text x="647.60" y="333.00" font-size="11" >34</text>
<line x1="555.5" y1="481" x2="555.5" y2="524.2" stroke="#111" stroke-width="1" />
<line x1="575.5" y1="470" x2="575.5" y2="524.2" stroke="#111" stroke-width="1" />
<line x1="545" y1="524.5" x2="555.3" y2="524.5" stroke="#111" stroke-width="1" />
<line x1="575.4" y1="524.5" x2="588" y2="524.5" stroke="#111" stroke-width="1" />
<path d="M555.00,523.90 L552.50,523.40 L549.50,522.90 L549.50,522.10 L547.00,522.10 L547.00,526.90 L549.50,526.90 L549.50,526.10 L552.50,525.60 L555.00,525.10Z" fill="#111"/>
<path d="M576.00,523.90 L578.50,523.40 L581.50,522.90 L581.50,522.10 L584.00,522.10 L584.00,526.90 L581.50,526.90 L581.50,526.10 L578.50,525.60 L576.00,525.10Z" fill="#111"/>
<text x="595.60" y="527.00" font-size="11" >A</text>
<text x="603.60" y="530.00" font-size="10" textLength="3.89" lengthAdjust="spacingAndGlyphs">5</text>
<text x="614.60" y="527.00" font-size="11" >34</text>
<path d="M61,286h7v1h-7zM64,287h1v1h-1zM60,288h9v1h-9zM61,289h1v1h-1zM64,289h1v1h-1zM67,289h1v1h-1zM61,290h7v1h-7zM61,291h1v1h-1zM64,291h1v1h-1zM67,291h1v1h-1zM61,292h7v1h-7zM64,293h1v1h-1zM60,294h9v1h-9z" fill="#000"/>
<path d="M73,286h1v1h-1zM79,286h1v1h-1zM71,287h8v1h-8zM72,288h1v1h-1zM74,288h1v1h-1zM76,288h1v1h-1zM71,289h9v1h-9zM73,290h1v1h-1zM76,290h1v1h-1zM78,290h1v1h-1zM71,291h6v1h-6zM78,291h1v1h-1zM72,292h5v1h-5zM78,292h1v1h-1zM71,293h1v1h-1zM73,293h1v1h-1zM76,293h1v1h-1zM78,293h1v1h-1zM73,294h1v1h-1zM75,294h1v1h-1zM78,294h1v1h-1z" fill="#000"/>
<path d="M83,286h1v1h-1zM86,286h1v1h-1zM88,286h4v1h-4zM85,287h3v1h-3zM91,287h1v1h-1zM82,288h1v1h-1zM86,288h6v1h-6zM83,289h2v1h-2zM86,289h1v1h-1zM88,289h1v1h-1zM90,289h2v1h-2zM84,290h1v1h-1zM86,290h6v1h-6zM83,291h1v1h-1zM86,291h1v1h-1zM88,291h2v1h-2zM91,291h1v1h-1zM83,292h1v1h-1zM86,292h6v1h-6zM83,293h1v1h-1zM86,293h1v1h-1zM91,293h1v1h-1zM83,294h1v1h-1zM86,294h1v1h-1zM91,294h1v1h-1zM90,295h1v1h-1z" fill="#000"/>
<path d="M97,286h4v1h-4zM94,287h1v1h-1zM97,287h1v1h-1zM100,287h1v1h-1zM96,288h6v1h-6zM96,289h1v1h-1zM101,289h1v1h-1zM94,290h1v1h-1zM97,290h4v1h-4zM97,291h1v1h-1zM100,291h1v1h-1zM94,292h1v1h-1zM97,292h4v1h-4zM94,293h1v1h-1zM97,293h1v1h-1zM100,293h1v1h-1zM97,294h1v1h-1zM99,294h2v1h-2z" fill="#000"/>
<path d="M104,286h3v1h-3zM108,286h1v1h-1zM111,286h1v1h-1zM104,287h1v1h-1zM106,287h1v1h-1zM108,287h3v1h-3zM104,288h1v1h-1zM106,288h1v1h-1zM108,288h1v1h-1zM112,288h1v1h-1zM104,289h3v1h-3zM108,289h1v1h-1zM112,289h1v1h-1zM104,290h1v1h-1zM106,290h1v1h-1zM108,290h5v1h-5zM104,291h1v1h-1zM106,291h1v1h-1zM108,291h1v1h-1zM112,291h1v1h-1zM104,292h3v1h-3zM108,292h5v1h-5zM104,293h1v1h-1zM106,293h1v1h-1zM108,293h1v1h-1zM112,293h1v1h-1zM104,294h1v1h-1zM106,294h1v1h-1zM108,294h5v1h-5z" fill="#000"/>
<path d="M117,286h5v1h-5zM117,287h1v1h-1zM121,287h1v1h-1zM115,288h9v1h-9zM117,289h1v1h-1zM119,289h1v1h-1zM121,289h1v1h-1zM117,290h5v1h-5zM117,291h1v1h-1zM119,291h1v1h-1zM121,291h1v1h-1zM117,292h5v1h-5zM119,293h1v1h-1zM115,294h9v1h-9z" fill="#000"/>
<path d="M137,286h1v1h-1zM130,287h12v1h-12zM130,288h1v1h-1zM137,288h1v1h-1zM130,289h1v1h-1zM134,289h7v1h-7zM130,290h1v1h-1zM134,290h1v1h-1zM140,290h1v1h-1zM130,291h1v1h-1zM134,291h7v1h-7zM130,292h1v1h-1zM136,292h1v1h-1zM138,292h1v1h-1zM130,293h1v1h-1zM135,293h1v1h-1zM138,293h1v1h-1zM141,293h1v1h-1zM130,294h1v1h-1zM133,294h2v1h-2zM138,294h4v1h-4zM130,295h1v1h-1zM130,296h3v1h-3z" fill="#000"/>
<path d="M144,287h2v1h-2zM145,288h1v1h-1zM145,289h1v1h-1zM145,290h1v1h-1zM145,291h1v1h-1zM145,292h1v1h-1zM145,293h1v1h-1zM145,294h1v1h-1zM145,295h1v1h-1zM144,296h2v1h-2z" fill="#000"/>
<path d="M402,361h2v1h-2zM408,361h1v1h-1zM402,362h2v1h-2zM406,362h1v1h-1zM408,362h1v1h-1zM410,362h1v1h-1zM401,363h4v1h-4zM406,363h5v1h-5zM404,364h1v1h-1zM401,365h2v1h-2zM404,365h7v1h-7zM401,366h2v1h-2zM405,366h2v1h-2zM408,366h1v1h-1zM410,366h1v1h-1zM402,367h2v1h-2zM405,367h2v1h-2zM408,367h1v1h-1zM410,367h1v1h-1zM402,368h5v1h-5zM408,368h1v1h-1zM410,368h1v1h-1zM401,369h2v1h-2zM405,369h2v1h-2zM408,369h1v1h-1zM410,369h1v1h-1zM405,370h3v1h-3zM409,370h2v1h-2z" fill="#000"/>
<path d="M415,361h2v1h-2zM419,361h2v1h-2zM413,362h10v1h-10zM417,363h2v1h-2zM414,364h8v1h-8zM417,365h2v1h-2zM413,366h10v1h-10zM414,367h8v1h-8zM414,368h2v1h-2zM417,368h1v1h-1zM419,368h1v1h-1zM421,368h1v1h-1zM414,369h2v1h-2zM417,369h1v1h-1zM419,369h1v1h-1zM421,369h1v1h-1zM413,370h11v1h-11z" fill="#000"/>
<text x="259.60" y="295.00" font-size="11" >5</text>
<text x="399.70" y="385.00" font-size="11" textLength="20.57" lengthAdjust="spacingAndGlyphs">ECY</text>
<text x="423.70" y="385.00" font-size="11" textLength="15.69" lengthAdjust="spacingAndGlyphs">211</text>
</svg></body></html>
